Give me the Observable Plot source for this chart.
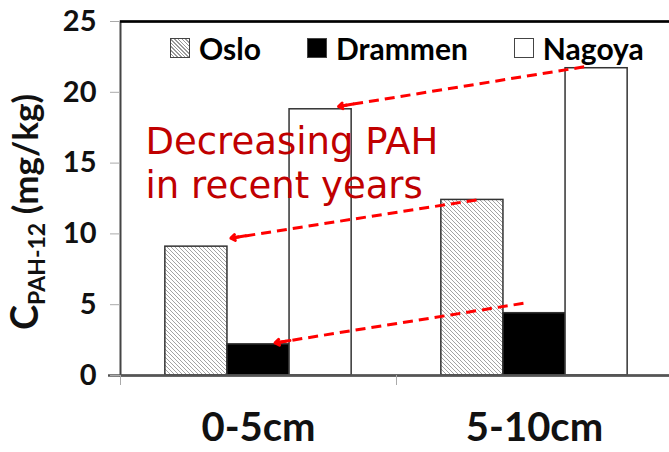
<!DOCTYPE html>
<html><head><meta charset="utf-8">
<script src="https://cdn.jsdelivr.net/npm/d3@7"></script>
<script src="https://cdn.jsdelivr.net/npm/@observablehq/plot@0.6"></script>
<style>
html,body{margin:0;padding:0;background:#fff;}
#wrap{position:relative;width:669px;height:452px;overflow:hidden;}
#legend{position:absolute;top:33px;left:170px;display:flex;align-items:center;font-family:Lato,sans-serif;font-weight:bold;font-size:30px;color:#000;line-height:1;}
.item{display:flex;align-items:center;margin-right:46px;}
.sw{width:20px;height:20px;border:1px solid #444;box-sizing:border-box;margin-right:9px;}
</style></head><body><div id="wrap"><div id="legend"></div></div>
<script>
const depths = ["0-5cm", "5-10cm"];
const cities = ["Oslo", "Drammen", "Nagoya"];
const osloValues = [9.1, 12.4];
const drammenValues = [2.2, 4.4];
const nagoyaValues = [18.8, 21.7];
const yTicks = [0, 5, 10, 15, 20, 25];
const annotationLines = ["Decreasing PAH", "in recent years"];
// arrows (annotation), x in category units, y in mg/kg
const arrowX1 = [1.68, 1.29, 1.46];
const arrowY1 = [21.8, 12.4, 5.1];
const arrowX2 = [0.79, 0.40, 0.56];
const arrowY2 = [19.0, 9.7, 2.3];
const yTitleParts = ["C", "PAH-12", " (mg/kg)"];

const seriesValues = [osloValues, drammenValues, nagoyaValues];
const barW = 0.225;
const rows = [];
depths.forEach((dep, di) => cities.forEach((c, ci) => rows.push({
  depth: dep, city: c, value: seriesValues[ci][di],
  x1: di + (1 - cities.length * barW) / 2 + ci * barW,
  x2: di + (1 - cities.length * barW) / 2 + (ci + 1) * barW
})));
const arrows = arrowX1.map((_, i) => ({x1: arrowX1[i], y1: arrowY1[i], x2: arrowX2[i], y2: arrowY2[i]}));
const t = 0.06;
const heads = arrows.map(a => ({x1: a.x2 + (a.x1 - a.x2) * t, y1: a.y2 + (a.y1 - a.y2) * t, x2: a.x2, y2: a.y2}));

const fills = ["url(#hatch)", "#000", "#fff"];

const plot = Plot.plot({
  width: 669, height: 452,
  marginLeft: 120, marginTop: 21, marginBottom: 77, marginRight: -3,
  style: {background: "#fff", fontFamily: "Lato, sans-serif", color: "#000"},
  x: {domain: [0, depths.length], axis: null},
  y: {domain: [yTicks[0], yTicks[yTicks.length - 1]], axis: null},
  color: {type: "ordinal", domain: cities, range: fills},
  marks: [
    Plot.rectY(rows, {x1: "x1", x2: "x2", y: "value", fill: "city", stroke: "#333", strokeWidth: 1.5}),
    Plot.frame({stroke: "#444", strokeWidth: 2}),
    Plot.ruleY([yTicks[yTicks.length - 1]], {stroke: "#000", strokeWidth: 2.5}),
    Plot.ruleY([yTicks[0]], {stroke: "#555", strokeWidth: 2.5, insetLeft: -12}),
    Plot.axisY(yTicks, {tickSize: 10, tickPadding: 14, fontSize: 29, fontWeight: "bold", stroke: "#aaa", fill: "#111", label: null}),
    Plot.axisX(d3.range(depths.length + 1), {tickSize: 10, tickFormat: () => "", stroke: "#aaa", label: null}),
    Plot.axisX(depths.map((_, i) => i + 0.5), {tickSize: 0, tickPadding: 37, tickFormat: d => depths[Math.floor(d)], fontSize: 40, fontWeight: "bold", fill: "#111", label: null}),
    Plot.text([annotationLines.join("\n")], {frameAnchor: "top-left", textAnchor: "start", lineAnchor: "top", dx: 25, dy: 101, lineHeight: 1.19, fontSize: 37, fontFamily: "DejaVu Sans", fill: "#c00000"}),
    Plot.link(arrows, {x1: "x1", y1: "y1", x2: "x2", y2: "y2", stroke: "#ff0000", strokeWidth: 3, strokeDasharray: "10,6"}),
    Plot.arrow(heads, {x1: "x1", y1: "y1", x2: "x2", y2: "y2", stroke: "#ff0000", strokeWidth: 3, headLength: 18, headAngle: 70})
  ]
});

const svg = d3.select(plot);
const defs = svg.insert("defs", ":first-child");
const pat = defs.append("pattern").attr("id", "hatch").attr("patternUnits", "userSpaceOnUse").attr("width", 4).attr("height", 4);
pat.append("rect").attr("width", 4).attr("height", 4).attr("fill", "#fff");
pat.append("path").attr("d", "M-1,-1L5,5M-1,3L1,5M3,-1L5,1").attr("stroke", "#999").attr("stroke-width", 0.9);

const title = svg.append("text")
  .attr("transform", "translate(38,212) rotate(-90)")
  .attr("text-anchor", "middle")
  .attr("font-family", "Lato, sans-serif").attr("font-weight", "bold").attr("fill", "#111");
title.append("tspan").attr("font-size", 38).text(yTitleParts[0]);
title.append("tspan").attr("font-size", 23).attr("dy", 7).text(yTitleParts[1]);
title.append("tspan").attr("font-size", 35).attr("dy", -7).text(yTitleParts[2]);

document.getElementById("wrap").prepend(plot);

const legend = d3.select("#legend");
cities.forEach((c, i) => {
  const it = legend.append("div").attr("class", "item");
  const sw = it.append("div").attr("class", "sw");
  if (i === 0) sw.style("background", "repeating-linear-gradient(45deg, #fff 0 1.6px, #999 1.6px 2.6px)");
  else sw.style("background", fills[i]);
  it.append("span").text(c);
});
</script></body></html>
